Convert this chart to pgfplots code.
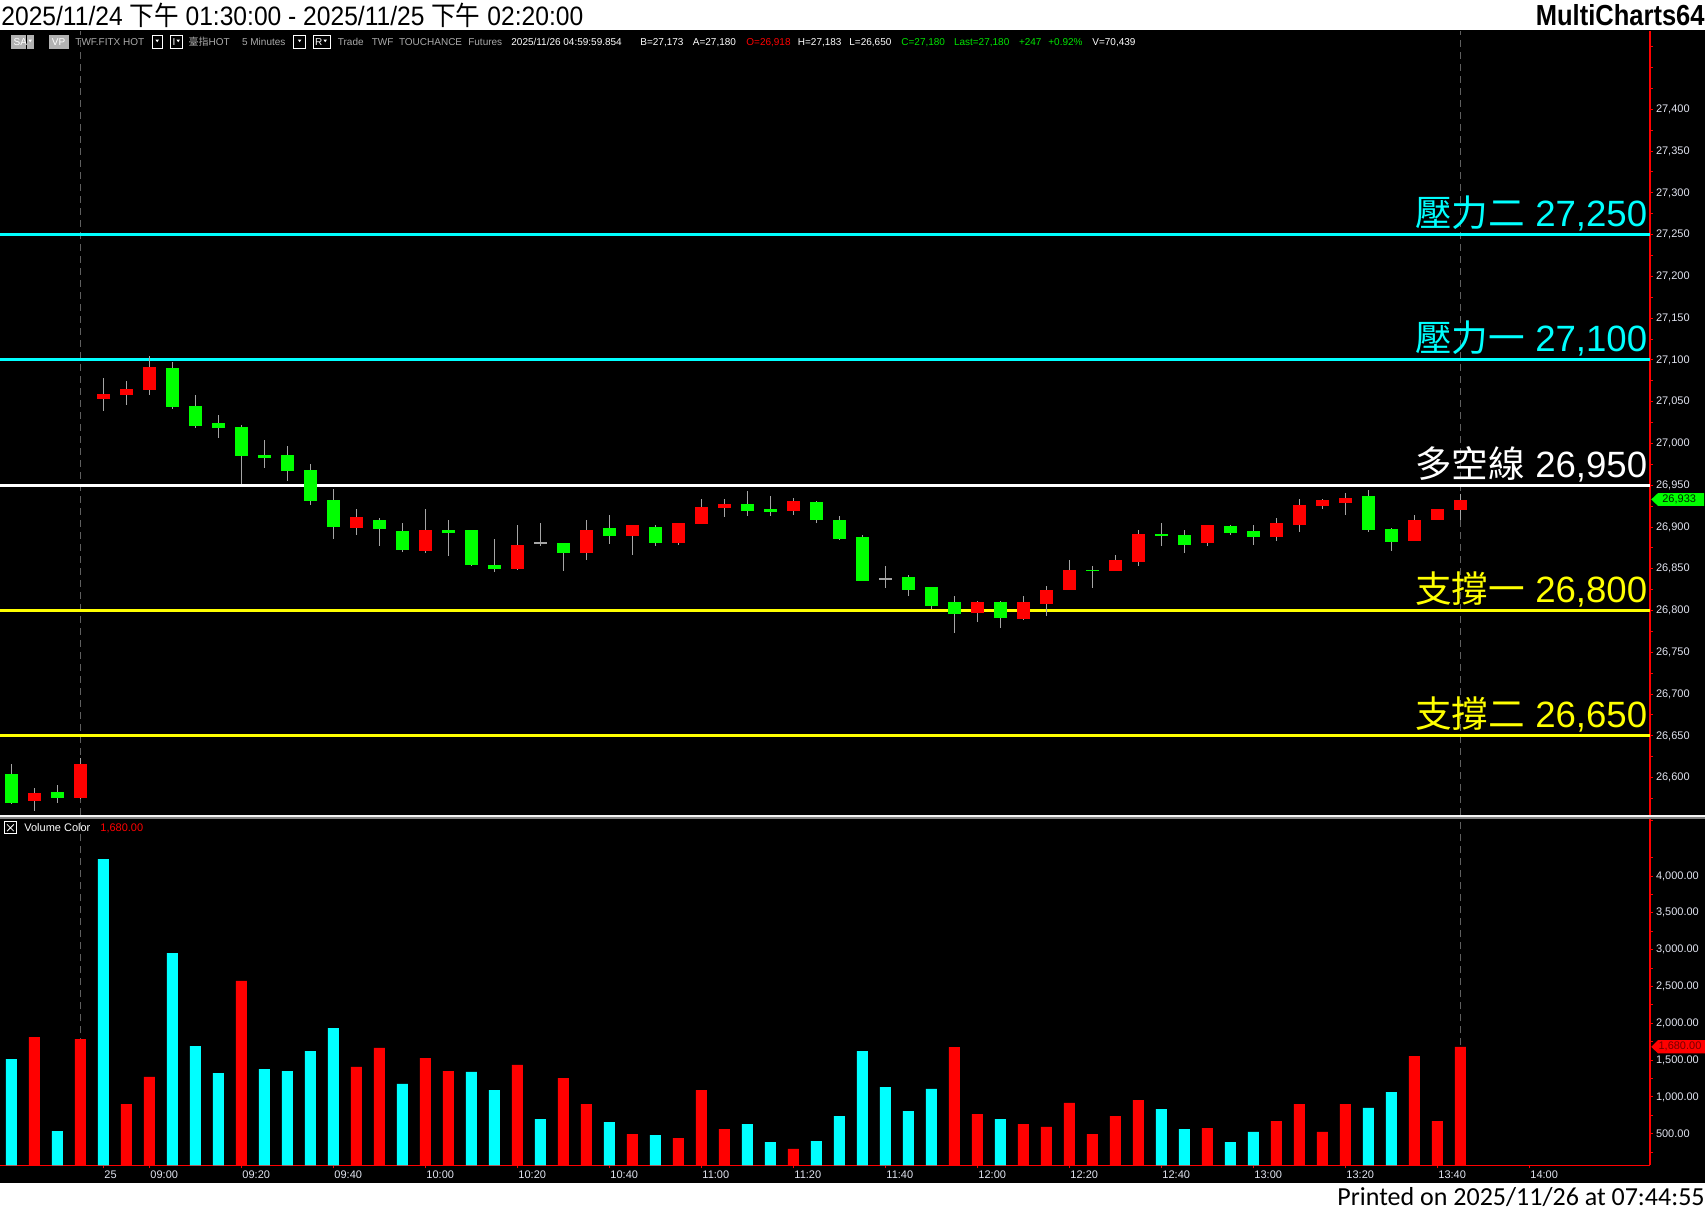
\documentclass[border=0pt]{standalone}
\usepackage{graphicx}
\usepackage{fontspec}
\usepackage{pgfplots}
\pgfplotsset{compat=1.18}
\usepackage{pgfplotstable}
\setmainfont{Liberation Sans}
\newfontfamily\cjk{Noto Sans CJK TC}
\newfontfamily\carlito{Carlito}
\definecolor{cred}{RGB}{255,0,0}
\definecolor{cgreen}{RGB}{0,255,0}
\definecolor{ccyan}{RGB}{0,255,255}
\definecolor{cyel}{RGB}{255,255,0}
\definecolor{wickc}{RGB}{165,165,165}
\definecolor{tickc}{RGB}{225,228,240}
\definecolor{dashc}{RGB}{95,95,95}
\definecolor{hgray}{RGB}{170,170,170}
\definecolor{hgreen}{RGB}{0,230,0}
\newcommand\tf{\fontsize{5.5}{6.5}\selectfont}
\newcommand\hf{\fontsize{5}{6}\selectfont}
\newcommand\hdr[3]{\node[anchor=base west, inner sep=0pt, text=#2] at (#1,582.5) {\hf #3};}
\newcommand\tri[1]{\fill[white] (#1-0.9,585.7) -- (#1+0.9,585.7) -- (#1,584.4) -- cycle;}

% candles: index, open, high, low, close
\pgfplotstableread{
x o h l c
1 26572 26588 26560 26582
3 26576 26623 26575 26616
4 27053 27079 27039 27059
5 27058 27075 27046 27065
6 27064 27105 27058 27091
15 26899 26921 26891 26912
18 26871 26921 26869 26896
22 26850 26903 26848 26878
25 26869 26909 26860 26897
27 26889 26902 26867 26902
29 26881 26905 26879 26905
30 26904 26933 26904 26924
31 26923 26933 26912 26928
34 26919 26935 26915 26931
42 26797 26811 26787 26810
44 26790 26818 26789 26810
45 26808 26829 26794 26825
46 26825 26860 26825 26849
48 26847 26867 26847 26860
49 26858 26896 26853 26892
52 26881 26903 26877 26902
55 26888 26911 26883 26905
56 26903 26934 26894 26926
57 26925 26934 26922 26932
58 26929 26941 26914 26935
61 26883 26914 26883 26909
62 26908 26922 26908 26922
63 26921 26939 26909 26933
}\upbars
\pgfplotstableread{
x o h l c
0 26605 26616 26569 26570
2 26583 26591 26570 26576
7 27091 27097 27041 27044
8 27045 27058 27019 27021
9 27025 27034 27007 27019
10 27020 27022 26952 26985
11 26986 27004 26971 26983
12 26986 26997 26955 26967
13 26968 26975 26926 26931
14 26932 26946 26886 26900
16 26909 26911 26877 26898
17 26895 26905 26870 26873
19 26896 26909 26866 26893
20 26896 26896 26853 26855
21 26854 26886 26846 26850
24 26881 26881 26847 26869
26 26899 26915 26880 26889
28 26900 26902 26877 26881
32 26928 26943 26913 26919
33 26922 26937 26913 26918
35 26930 26931 26905 26909
36 26909 26913 26885 26886
37 26888 26890 26835 26835
39 26840 26843 26817 26825
40 26828 26828 26802 26805
41 26810 26817 26773 26796
43 26810 26812 26779 26791
47 26849 26853 26827 26847
50 26892 26905 26877 26890
51 26890 26897 26869 26879
53 26901 26903 26890 26893
54 26895 26902 26879 26888
59 26937 26944 26894 26896
60 26898 26899 26871 26882
}\dnbars
\pgfplotstableread{
x o h l c
23 26881 26905 26877 26881
38 26838 26853 26827 26838
}\dojibars
% volume
\pgfplotstableread{
x v
0 1514
2 536
4 4231
7 2954
8 1691
9 1324
11 1378
12 1351
13 1623
14 1935
17 1175
20 1338
21 1093
23 699
26 658
28 482
32 631
33 387
35 400
36 740
37 1623
38 1134
39 808
40 1107
43 699
50 835
51 563
53 387
54 523
59 849
60 1066
}\volc
\pgfplotstableread{
x v
1 1813
3 1786
5 903
6 1270
10 2574
15 1406
16 1664
18 1528
19 1351
22 1433
24 1256
25 903
27 495
29 441
30 1093
31 563
34 292
41 1677
42 767
44 631
45 591
46 917
47 495
48 740
49 957
52 577
55 672
56 903
57 523
58 903
61 1555
62 672
63 1680
}\volr

\pgfplotsset{
  every non boxed x axis/.append style={x axis line style={-}, xtick align=outside},
  every non boxed y axis/.append style={y axis line style={-}, ytick align=outside},
  mc/.style={
    scale only axis, width=825pt,
    xmin=-0.491, xmax=71.25,
    clip mode=individual,
    scaled y ticks=false, scaled x ticks=false,
    axis y line=right,
    axis line style={cred, line width=0.6pt},
    tick style={cred, line width=0.5pt},
    major tick length=1.6pt, minor tick length=1.6pt,
    ticklabel style={font=\tf, text=tickc},
    yticklabel style={anchor=west, inner sep=0pt, xshift=1.2pt},
  },
  nomark/.style={only marks, mark=*, mark size=0pt, mark options={draw=none, fill=none, opacity=0}, forget plot},
  wick/.style={nomark,
    error bars/.cd, y dir=both, y explicit, error mark=none,
    error bar style={color=wickc, line width=0.7pt, opacity=1}},
  body/.style={nomark,
    error bars/.cd, y dir=both, y explicit, error mark=none,
    error bar style={color=#1, line width=6.5pt, opacity=1}},
}

\begin{document}
\begin{tikzpicture}[x=1pt,y=1pt]
\fill[white] (0,0) rectangle (852.5,605.5);
\fill[black] (0,14) rectangle (852.5,590.5);

% title strip
\node[anchor=base west, inner sep=0pt] at (0.5,592.5) {\scalebox{0.925}[1]{\fontsize{13.3}{13.3}\selectfont 2025/11/24 {\cjk 下午} 01:30:00 - 2025/11/25 {\cjk 下午} 02:20:00}};
\node[anchor=base east, inner sep=0pt] at (852.5,592.5) {\scalebox{0.88}[1]{\fontsize{14.5}{14.5}\selectfont\bfseries MultiCharts64}};
\node[anchor=base east, inner sep=0pt] at (852.5,2.5) {\carlito\fontsize{13}{13}\selectfont Printed on 2025/11/26 at 07:44:55};

% ---------------- price panel ----------------
\begin{axis}[mc, at={(0pt,198pt)}, anchor=south west, height=392pt,
  ymin=26555.3, ymax=27493.8,
  axis x line=none,
  ytick={26600,26650,26700,26750,26800,26850,26900,26950,27000,27050,27100,27150,27200,27250,27300,27350,27400},
  yticklabels={{26,600},{26,650},{26,700},{26,750},{26,800},{26,850},{26,900},{26,950},{27,000},{27,050},{27,100},{27,150},{27,200},{27,250},{27,300},{27,350},{27,400}},
  minor ytick={26575,26625,26675,26725,26775,26825,26875,26925,26975,27025,27075,27125,27175,27225,27275,27325,27375,27425,27450,27475},
]
\addplot[dashc, line width=0.5pt, dash pattern=on 3.5pt off 2.5pt, forget plot] coordinates {(3,26555.3) (3,27493.8)};
\addplot[dashc, line width=0.5pt, dash pattern=on 3.5pt off 2.5pt, forget plot] coordinates {(63,26555.3) (63,27493.8)};
% support / resistance lines
\addplot[ccyan, line width=1.5pt, forget plot] coordinates {(-0.491,27250) (71.25,27250)};
\addplot[ccyan, line width=1.5pt, forget plot] coordinates {(-0.491,27100) (71.25,27100)};
\addplot[white, line width=1.5pt, forget plot] coordinates {(-0.491,26950) (71.25,26950)};
\addplot[cyel, line width=1.5pt, forget plot] coordinates {(-0.491,26800) (71.25,26800)};
\addplot[cyel, line width=1.5pt, forget plot] coordinates {(-0.491,26650) (71.25,26650)};
% wicks
\addplot[wick] table[x=x, y expr={(\thisrow{h}+\thisrow{l})/2}, y error expr={(\thisrow{h}-\thisrow{l})/2}] {\upbars};
\addplot[wick] table[x=x, y expr={(\thisrow{h}+\thisrow{l})/2}, y error expr={(\thisrow{h}-\thisrow{l})/2}] {\dnbars};
\addplot[wick] table[x=x, y expr={(\thisrow{h}+\thisrow{l})/2}, y error expr={(\thisrow{h}-\thisrow{l})/2}] {\dojibars};
% bodies
\addplot[body=cred] table[x=x, y expr={(\thisrow{o}+\thisrow{c})/2}, y error expr={(\thisrow{c}-\thisrow{o})/2}] {\upbars};
\addplot[body=cgreen] table[x=x, y expr={(\thisrow{o}+\thisrow{c})/2}, y error expr={(\thisrow{o}-\thisrow{c})/2}] {\dnbars};
\addplot[body=wickc] table[x=x, y=o, y error expr={1.0}] {\dojibars};
% labels of the lines
\node[anchor=base east, inner sep=0pt, text=ccyan, font=\fontsize{18.3}{18.3}\selectfont] at ([xshift=-1.2pt, yshift=4pt]axis cs:71.25,27250) {{\cjk 壓力二} 27,250};
\node[anchor=base east, inner sep=0pt, text=ccyan, font=\fontsize{18.3}{18.3}\selectfont] at ([xshift=-1.2pt, yshift=4pt]axis cs:71.25,27100) {{\cjk 壓力一} 27,100};
\node[anchor=base east, inner sep=0pt, text=white, font=\fontsize{18.3}{18.3}\selectfont] at ([xshift=-1.2pt, yshift=4pt]axis cs:71.25,26950) {{\cjk 多空線} 26,950};
\node[anchor=base east, inner sep=0pt, text=cyel, font=\fontsize{18.3}{18.3}\selectfont] at ([xshift=-1.2pt, yshift=4pt]axis cs:71.25,26800) {{\cjk 支撐一} 26,800};
\node[anchor=base east, inner sep=0pt, text=cyel, font=\fontsize{18.3}{18.3}\selectfont] at ([xshift=-1.2pt, yshift=4pt]axis cs:71.25,26650) {{\cjk 支撐二} 26,650};
\coordinate (lastp) at (axis cs:71.25,26933);
\end{axis}
\fill[cgreen] ([xshift=0.6pt]lastp) -- ++(3.4pt,3.2pt) -- ++(23pt,0) -- ++(0,-6.4pt) -- ++(-23pt,0) -- cycle;
\node[inner sep=0pt, text=black!85!green, font=\tf] at ([xshift=14.6pt]lastp) {26,933};

% ---------------- volume panel ----------------
\begin{axis}[mc, at={(0pt,22.85pt)}, anchor=south west, height=173.65pt,
  ymin=70.6, ymax=4788,
  axis x line=bottom,
  ytick={500,1000,1500,2000,2500,3000,3500,4000},
  yticklabels={{500.00},{1,000.00},{1,500.00},{2,000.00},{2,500.00},{3,000.00},{3,500.00},{4,000.00}},
  minor ytick={250,750,1250,1750,2250,2750,3250,3750,4250,4750},
  xtick={4,6,10,14,18,22,26,30,34,38,42,46,50,54,58,62,66},
  xticklabels={25,09:00,09:20,09:40,10:00,10:20,10:40,11:00,11:20,11:40,12:00,12:20,12:40,13:00,13:20,13:40,14:00},
  xticklabel style={anchor=north west, inner sep=0pt, xshift=0.4pt, yshift=-1.2pt},
]
\addplot[dashc, line width=0.5pt, dash pattern=on 3.5pt off 2.5pt, forget plot] coordinates {(3,70.6) (3,4788)};
\addplot[dashc, line width=0.5pt, dash pattern=on 3.5pt off 2.5pt, forget plot] coordinates {(63,70.6) (63,4788)};
\addplot[ybar, bar width=5.5pt, bar shift=0pt, fill=ccyan, draw=none, forget plot] table[x=x, y=v] {\volc};
\addplot[ybar, bar width=5.5pt, bar shift=0pt, fill=cred, draw=none, forget plot] table[x=x, y=v] {\volr};
\coordinate (lastv) at (axis cs:71.25,1680);
\end{axis}
\fill[cred] ([xshift=0.6pt]lastv) -- ++(3.4pt,3.3pt) -- ++(23.5pt,0) -- ++(0,-6.6pt) -- ++(-23.5pt,0) -- cycle;
\node[inner sep=0pt, text=black!55!red, font=\tf] at ([xshift=15pt]lastv) {1,680.00};

% separator between panels
\fill[gray] (0,195.85) rectangle (852.5,196.9);
\fill[white!92!gray] (0,196.85) rectangle (852.5,198.15);

% volume header
\draw[white, line width=0.45pt] (2.2,188.6) rectangle (8.2,194.6);
\draw[white, line width=0.4pt] (3.5,189.9) -- (6.9,193.3) (3.5,193.3) -- (6.9,189.9);
\node[anchor=base west, inner sep=0pt, text=white] at (12,189.6) {\tf Volume Color};
\node[anchor=base west, inner sep=0pt, text=cred] at (50,189.6) {\tf 1,680.00};

% header line
\fill[gray!60!white] (5.7,581) rectangle (12.9,588);
\fill[gray!60!white] (13.4,581) rectangle (16.8,588);
\hdr{6.6}{white}{SA}
\tri{15.1}
\fill[gray!60!white] (24.5,581) rectangle (34.5,588);
\hdr{25.8}{white}{VP}
\hdr{37.5}{hgray}{TWF.FITX HOT}
\draw[white, line width=0.4pt] (76,581.3) rectangle (81.2,587.7);
\tri{78.6}
\draw[white, line width=0.4pt] (85,581.3) rectangle (91,587.7);
\hdr{86.1}{white}{I}
\tri{89.1}
\hdr{94.1}{hgray}{{\cjk 臺指}HOT}
\hdr{120.9}{hgray}{5}
\hdr{125}{hgray}{Minutes}
\draw[white, line width=0.4pt] (146.8,581.3) rectangle (152.8,587.7);
\tri{149.8}
\draw[white, line width=0.4pt] (156.5,581.3) rectangle (165,587.7);
\hdr{157.4}{white}{R}
\tri{162.6}
\hdr{168.75}{hgray}{Trade}
\hdr{185.7}{hgray}{TWF}
\hdr{199.3}{hgray}{TOUCHANCE}
\hdr{233.95}{hgray}{Futures}
\hdr{255.5}{white}{2025/11/26}
\hdr{281.5}{white}{04:59:59.854}
\hdr{320}{white}{B=27,173}
\hdr{346.25}{white}{A=27,180}
\hdr{373}{cred}{O=26,918}
\hdr{398.75}{white}{H=27,183}
\hdr{424.5}{white}{L=26,650}
\hdr{450.5}{hgreen}{C=27,180}
\hdr{476.8}{hgreen}{Last=27,180}
\hdr{509.3}{hgreen}{+247}
\hdr{524}{hgreen}{+0.92\%}
\hdr{546}{white}{V=70,439}
\pgfresetboundingbox
\useasboundingbox (0,0) rectangle (852.5,605.5);
\end{tikzpicture}
\end{document}
